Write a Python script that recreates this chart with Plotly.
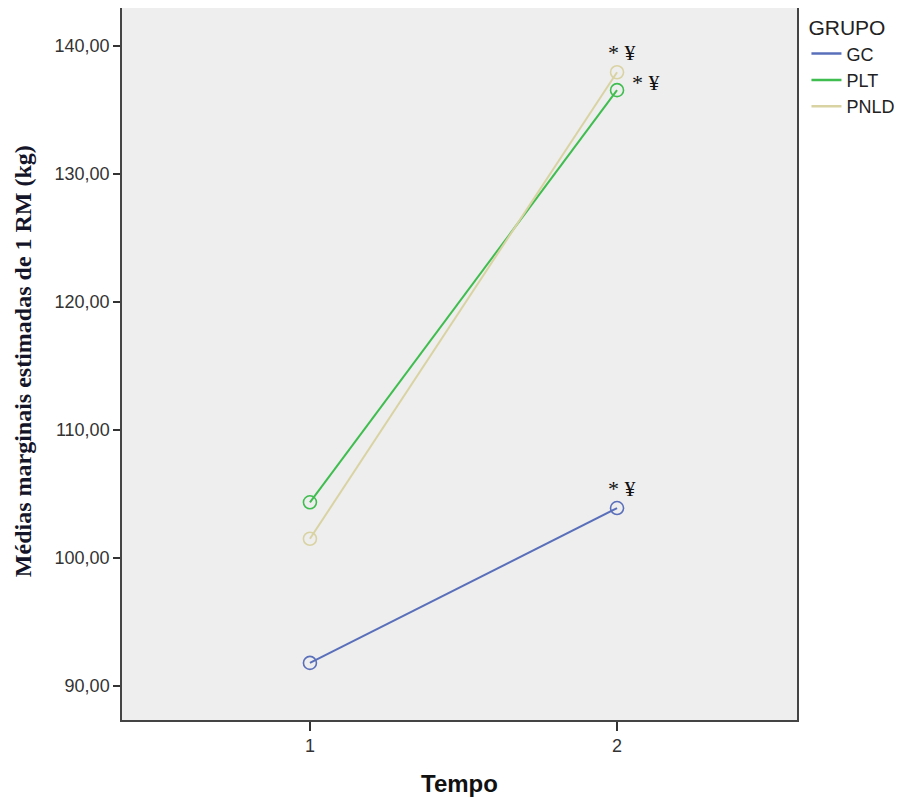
import plotly.graph_objects as go

tempo = [1, 2]
groups = ["GC", "PLT", "PNLD"]
gc_vals = [91.8, 103.9]
plt_vals = [104.35, 136.55]
pnld_vals = [101.5, 137.95]
colors = {"GC": "#5a6fba", "PLT": "#3fbd4f", "PNLD": "#d9d3a3"}
sig_label = "* ¥"
y_ticks = [90, 100, 110, 120, 130, 140]

series = {"GC": gc_vals, "PLT": plt_vals, "PNLD": pnld_vals}

fig = go.Figure()
for g in groups:
    fig.add_trace(go.Scatter(
        x=tempo, y=series[g], name=g, mode="lines+markers", showlegend=False,
        line=dict(color=colors[g], width=2),
        marker=dict(symbol="circle-open", size=13, line=dict(width=1.6, color=colors[g]), color=colors[g]),
    ))
# legend entries (line only)
for g in groups:
    fig.add_trace(go.Scatter(
        x=[None], y=[None], name=g, mode="lines",
        line=dict(color=colors[g], width=2.5),
    ))

ann_font = dict(family="Liberation Serif, Times New Roman, serif", size=22, color="#111111")
fig.add_annotation(x=tempo[1], y=gc_vals[1], text=sig_label, showarrow=False,
                   xshift=5, yshift=20, font=ann_font)
fig.add_annotation(x=tempo[1], y=pnld_vals[1], text=sig_label, showarrow=False,
                   xshift=5, yshift=20, font=ann_font)
fig.add_annotation(x=tempo[1], y=plt_vals[1], text=sig_label, showarrow=False,
                   xshift=29, yshift=8, font=ann_font)

# y axis title as annotation for exact placement
fig.add_annotation(xref="paper", yref="paper", x=-0.1467, y=0.504, textangle=-90,
                   xanchor="center", yanchor="middle", showarrow=False,
                   text="<b>Médias marginais estimadas de 1 RM (kg)</b>",
                   font=dict(family="Liberation Serif, Times New Roman, serif", size=24, color="#15152a"))

fig.update_layout(
    width=898, height=797,
    margin=dict(l=114, r=109, t=0, b=85),
    paper_bgcolor="white", plot_bgcolor="#eeeeee",
    separators=",.",
    font=dict(family="Liberation Sans, Arial, sans-serif", size=18, color="#333333"),
    showlegend=True,
    legend=dict(
        title=dict(text="GRUPO", font=dict(size=21, color="#222222")),
        x=1.014, xanchor="left", y=1.0, yanchor="top",
        font=dict(size=18, color="#222222"),
        bgcolor="rgba(0,0,0,0)", tracegroupgap=0,
    ),
    xaxis=dict(
        range=[0.388, 2.586], tickmode="array", tickvals=tempo, ticktext=[str(t) for t in tempo],
        showgrid=False, zeroline=False, showline=True, linecolor="#444444", linewidth=1.5, mirror=True,
        ticks="outside", ticklen=9, tickwidth=1.5, tickcolor="#333333",
        tickfont=dict(size=18, color="#333333"), automargin=False,
        title=dict(text="<b>Tempo</b>", font=dict(size=24, color="#111111"), standoff=20),
    ),
    yaxis=dict(
        range=[87.34, 142.97], tickmode="array", tickvals=y_ticks,
        tickformat=".2f",
        showgrid=False, zeroline=False, showline=True, linecolor="#444444", linewidth=1.5, mirror=True,
        ticks="outside", ticklen=7, tickwidth=1.5, tickcolor="#333333",
        tickfont=dict(size=18, color="#333333"), automargin=False,
    ),
)

fig.write_html("out.html")
